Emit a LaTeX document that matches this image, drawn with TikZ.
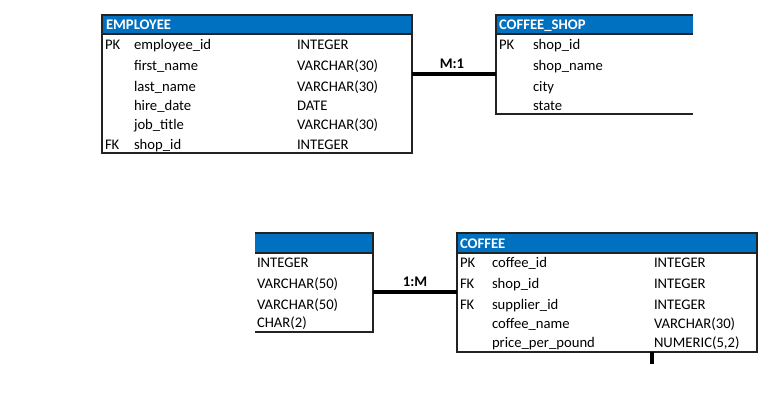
\documentclass[tikz,border=0pt]{standalone}
\usepackage{fontspec}
\setmainfont{Carlito}
\usepackage{xcolor}
\usepackage{tikz}
\usetikzlibrary{
  positioning,
  calc
}
\definecolor{hdrblue}{RGB}{0,112,192}
\definecolor{boxgray}{RGB}{35,35,35}

\begin{document}
\begin{tikzpicture}[
  x=0.75pt, y=-0.75pt,
  every node/.style={inner sep=0pt, outer sep=0pt, font=\fontsize{11}{13}\selectfont},
  hdr/.style 2 args={rectangle, fill=hdrblue, minimum width=#1*0.75pt, minimum height=#2*0.75pt, anchor=north west},
  body/.style 2 args={rectangle, minimum width=#1*0.75pt, minimum height=#2*0.75pt, anchor=north west},
  border/.style={draw=boxgray, line width=0.9pt},
  title/.style={anchor=base west, text=white, font=\fontsize{11}{13}\selectfont\bfseries},
  field/.style={anchor=base west},
  card/.style={font=\fontsize{11}{13}\selectfont\bfseries, above=3.75pt of #1},
  rel/.style={draw=black, line width=3pt}
]
  \useasboundingbox (0,0) rectangle (772,415);

  % EMPLOYEE
  \node[hdr={310}{19}, border] (emphdr) at (102,15) {};
  \node[body={310}{119}, border] (empbody) at (emphdr.south west) {};
  \node[title] (emptitle) at (106,29) {EMPLOYEE};
  \node[field] (empkey1) at (105,49) {PK};
  \node[field] (empkey6) at (105,149) {FK};
  \foreach \fld/\typ/\yy [count=\i] in {employee\_id/INTEGER/49, first\_name/VARCHAR(30)/70,
      last\_name/VARCHAR(30)/91, hire\_date/DATE/110, job\_title/VARCHAR(30)/129, shop\_id/INTEGER/149}{
    \node[field] (empfld\i) at (134,\yy) {\fld};
    \node[field] (emptyp\i) at (297,\yy) {\typ};
  }

  % COFFEE_SHOP (cut off on the right)
  \node[hdr={197}{19}] (shophdr) at (496,15) {};
  \node[body={197}{80}] (shopbody) at (shophdr.south west) {};
  \draw[border] (shophdr.north east) -- (shophdr.north west) -- (shopbody.south west) -- (shopbody.south east);
  \draw[border] (shophdr.south west) -- (shophdr.south east);
  \node[title] (shoptitle) at (499,29) {COFFEE\_SHOP};
  \node[field] (shopkey1) at (499,49) {PK};
  \foreach \fld/\yy [count=\i] in {shop\_id/49, shop\_name/70, city/91, state/110}{
    \node[field] (shopfld\i) at (533,\yy) {\fld};
  }

  % supplier table (cut off on the left)
  \node[hdr={118}{20}] (suphdr) at (255,233) {};
  \node[body={118}{79}] (supbody) at (suphdr.south west) {};
  \draw[border] (suphdr.north west) -- (suphdr.north east) -- (supbody.south east) -- (supbody.south west);
  \draw[border] (suphdr.south west) -- (suphdr.south east);
  \foreach \typ/\yy [count=\i] in {INTEGER/267, VARCHAR(50)/288, VARCHAR(50)/309, CHAR(2)/327}{
    \node[field] (suptyp\i) at (257,\yy) {\typ};
  }

  % COFFEE
  \node[hdr={300}{20}, border] (cofhdr) at (457,233) {};
  \node[body={300}{99}, border] (cofbody) at (cofhdr.south west) {};
  \node[title] (coftitle) at (460,248) {COFFEE};
  \node[field] (cofkey1) at (460,267) {PK};
  \node[field] (cofkey2) at (460,288) {FK};
  \node[field] (cofkey3) at (460,309) {FK};
  \foreach \fld/\typ/\yy [count=\i] in {coffee\_id/INTEGER/267, shop\_id/INTEGER/288,
      supplier\_id/INTEGER/309, coffee\_name/VARCHAR(30)/328, {price\_per\_pound/NUMERIC(5,2)/347}}{
    \node[field] (coffld\i) at (492,\yy) {\fld};
    \node[field] (coftyp\i) at (654,\yy) {\typ};
  }

  % relationships
  \coordinate (mone) at (452,74);
  \draw[rel] (empbody.east |- mone) -- (shopbody.west |- mone);
  \node[card=mone] (monelbl) {M:1};

  \coordinate (onem) at (415,292);
  \draw[rel] (supbody.east |- onem) -- (cofbody.west |- onem);
  \node[card=onem] (onemlbl) {1:M};

  \coordinate (cofdown) at (652,364);
  \draw[rel] (cofbody.south -| cofdown) -- (cofdown);
\end{tikzpicture}
\end{document}
